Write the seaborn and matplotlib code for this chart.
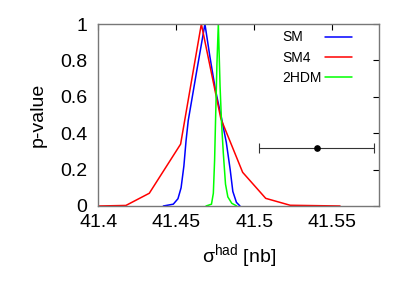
import matplotlib
matplotlib.use("Agg")
import matplotlib.pyplot as plt
import seaborn as sns
import pandas as pd

# p-value curves
sm_x = [41.4416, 41.4480, 41.4510, 41.4530, 41.4548, 41.4562, 41.4576, 41.4630,
        41.4683, 41.4715, 41.4750, 41.4790, 41.4820, 41.4845, 41.4862, 41.4885, 41.4908]
sm_y = [0.0, 0.01, 0.04, 0.10, 0.22, 0.36, 0.47, 0.74,
        1.0, 0.82, 0.64, 0.48, 0.35, 0.20, 0.08, 0.02, 0.0]

sm4_x = [41.400, 41.4176, 41.4326, 41.4527, 41.4660, 41.4785, 41.4925, 41.5073, 41.5230, 41.5550]
sm4_y = [0.0, 0.003, 0.07, 0.34, 1.0, 0.48, 0.185, 0.042, 0.004, 0.0]

thdm_x = [41.4690, 41.4725, 41.4737, 41.4745, 41.4752, 41.4760, 41.4769,
          41.4780, 41.4790, 41.4801, 41.4815, 41.4830, 41.4855, 41.4887]
thdm_y = [0.0, 0.01, 0.07, 0.25, 0.50, 0.78, 1.0,
          0.66, 0.45, 0.29, 0.12, 0.05, 0.015, 0.0]

models = ["SM", "SM4", "2HDM"]
colors = {"SM": "#0000ff", "SM4": "#ff0000", "2HDM": "#00ff00"}

# measurement
meas_x = [41.540]
meas_err = [0.037]
meas_y = [0.317]

xticks = [41.4, 41.45, 41.5, 41.55]
yticks = [0, 0.2, 0.4, 0.6, 0.8, 1]

df = pd.concat([
    pd.DataFrame({"x": sm_x, "p": sm_y, "model": "SM"}),
    pd.DataFrame({"x": sm4_x, "p": sm4_y, "model": "SM4"}),
    pd.DataFrame({"x": thdm_x, "p": thdm_y, "model": "2HDM"}),
], ignore_index=True)

sns.set_style("white")
plt.rcParams["font.family"] = ["Liberation Sans", "DejaVu Sans"]
plt.rcParams["mathtext.fontset"] = "custom"
plt.rcParams["mathtext.rm"] = "Liberation Sans"
for key in ["text.color", "axes.labelcolor", "xtick.color", "ytick.color"]:
    plt.rcParams[key] = "black"

fig = plt.figure(figsize=(4.15, 2.91), dpi=100)
ax = fig.add_axes([0.2373, 0.2921, 0.6760, 0.6254])

sns.lineplot(data=df, x="x", y="p", hue="model", hue_order=models,
             palette=colors, estimator=None, sort=False, lw=1.1, ax=ax)

ax.errorbar(meas_x, meas_y, xerr=meas_err, fmt="o", color="black", ms=3.8,
            elinewidth=0.8, capsize=3.5, capthick=0.8, ecolor="#333333")

ax.set_xlim(41.4, 41.58)
ax.set_ylim(0, 1)
ax.set_xticks(xticks)
ax.set_xticklabels(["41.4", "41.45", "41.5", "41.55"])
ax.set_yticks(yticks)
ax.set_yticklabels(["0", "0.2", "0.4", "0.6", "0.8", "1"])
ax.tick_params(direction="in", length=4.5, width=0.8, color="black",
               labelcolor="black", labelsize=14, top=True, right=True)
ax.tick_params(axis="x", pad=6)
ax.tick_params(axis="y", pad=8)
for s in ax.spines.values():
    s.set_color("#777777")
    s.set_linewidth(1.0)

ax.set_xlabel(r"$\mathrm{σ}^{\mathrm{had}}$ [nb]", fontsize=14, labelpad=8,
              color="black")
ax.set_ylabel("p-value", fontsize=14, labelpad=10, color="black")

leg = ax.legend(loc="upper left", bbox_to_anchor=(0.655, 0.965), frameon=False,
                markerfirst=False, fontsize=10, handlelength=1.95,
                labelspacing=0.45, borderpad=0, borderaxespad=0)
for line in leg.get_lines():
    line.set_linewidth(1.1)
for t in leg.get_texts():
    t.set_color("black")
# put label text on the left and samples flush right, like a gnuplot key
for row in leg._legend_handle_box.get_children()[0].get_children():
    row.mode = "expand"
    row.width = 70

fig.savefig("out.png", dpi=100)
